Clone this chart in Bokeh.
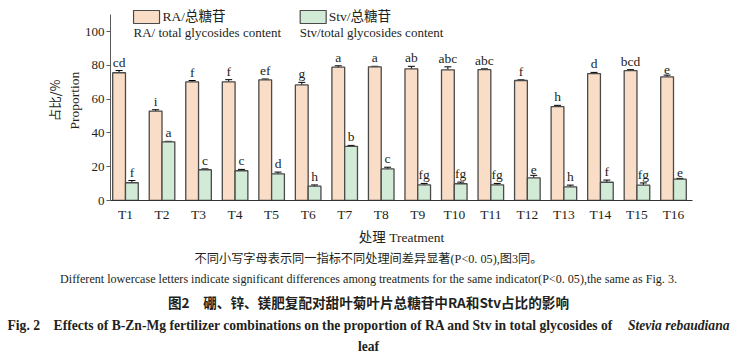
import numpy as np
from bokeh.plotting import figure
from bokeh.layouts import column, row
from bokeh.models import (Range1d, FixedTicker, Label, Whisker, ColumnDataSource,
                          TeeHead, LinearAxis)
from bokeh.core.properties import value
from bokeh.embed import file_html
from bokeh.resources import INLINE

# ---------------- data ----------------
categories = ["T1", "T2", "T3", "T4", "T5", "T6", "T7", "T8",
              "T9", "T10", "T11", "T12", "T13", "T14", "T15", "T16"]
ra_values = [75.6, 52.9, 70.2, 70.2, 71.4, 68.4, 78.9, 79.1,
             77.9, 77.3, 77.5, 71.0, 55.6, 75.1, 76.9, 73.2]
ra_errors = [1.3, 0.8, 0.8, 1.3, 0.5, 1.5, 0.8, 0.3,
             1.5, 1.8, 0.4, 0.4, 0.7, 0.7, 0.5, 1.0]
ra_letters = ["cd", "i", "f", "f", "ef", "g", "a", "a",
              "ab", "abc", "abc", "f", "h", "d", "bcd", "e"]
stv_values = [10.5, 34.7, 18.2, 17.6, 15.8, 8.5, 32.0, 18.7,
              9.3, 9.9, 9.3, 13.4, 8.1, 10.8, 9.1, 12.6]
stv_errors = [1.3, 0.3, 0.5, 0.8, 1.0, 0.7, 0.6, 1.0,
              0.8, 1.0, 0.8, 1.5, 1.0, 1.3, 1.3, 0.5]
stv_letters = ["f", "a", "c", "c", "d", "h", "b", "c",
               "fg", "fg", "fg", "e", "h", "f", "fg", "e"]
y_ticks = [0, 20, 40, 60, 80, 100]

# ---------------- layout constants ----------------
W = 735
H1 = 250          # chart part height
H2 = 113          # caption part height
X0, X1 = 0.59, 16.52
PXU = 36.5        # px per x unit
PYU = 1.69        # px per y unit
FL_IMG = 110      # frame left (px)
BASE_IMG = 200    # y=0 (px)
Y1 = BASE_IMG / PYU


def dx(px):
    return X0 + (px - FL_IMG) / PXU


def dy(py):
    return (BASE_IMG - py) / PYU


SERIF = "Liberation Serif"
CJK = "Noto Sans CJK SC"
MIX = "Liberation Serif, Noto Sans CJK SC"
RA_FILL = "#FADDC6"
STV_FILL = "#D2EBD6"
EDGE = "#4a4a4a"
TXT = "#231f20"
BW = 0.35

p = figure(width=W, height=H1, x_range=Range1d(X0, X1), y_range=Range1d(0, Y1),
           output_backend="svg", toolbar_location=None,
           min_border_left=FL_IMG, min_border_right=43, min_border_top=0,
           min_border_bottom=H1 - BASE_IMG)
p.outline_line_color = None
p.grid.visible = False

idx = np.arange(1, len(categories) + 1)
x_ra = idx - BW / 2
x_stv = idx + BW / 2

src = ColumnDataSource(dict(
    x_ra=x_ra, x_stv=x_stv, ra=ra_values, stv=stv_values,
    ra_lo=np.array(ra_values) - np.array(ra_errors),
    ra_hi=np.array(ra_values) + np.array(ra_errors),
    stv_lo=np.array(stv_values) - np.array(stv_errors),
    stv_hi=np.array(stv_values) + np.array(stv_errors),
    ra_let=ra_letters, stv_let=stv_letters,
))

p.vbar(x="x_ra", top="ra", width=BW, bottom=0, source=src,
       fill_color=RA_FILL, line_color=EDGE, line_width=1.3)
p.vbar(x="x_stv", top="stv", width=BW, bottom=0, source=src,
       fill_color=STV_FILL, line_color=EDGE, line_width=1.3)

for b, lo, hi in (("x_ra", "ra_lo", "ra_hi"), ("x_stv", "stv_lo", "stv_hi")):
    w = Whisker(source=src, base=b, lower=lo, upper=hi, line_color="black",
                line_width=1,
                upper_head=TeeHead(size=7, line_color="black", line_width=1),
                lower_head=TeeHead(size=7, line_color="black", line_width=1))
    p.add_layout(w)

p.text(x="x_ra", y="ra_hi", text="ra_let", source=src, text_align="center",
       text_baseline="bottom", y_offset=-1, text_font=value(SERIF),
       text_font_size="13.5px", text_color=TXT)
p.text(x="x_stv", y="stv_hi", text="stv_let", source=src, text_align="center",
       text_baseline="bottom", y_offset=-1, text_font=value(SERIF),
       text_font_size="13.5px", text_color=TXT)

# axes
p.yaxis.bounds = (0, 110)
p.yaxis.ticker = FixedTicker(ticks=y_ticks)
p.yaxis.minor_tick_line_color = None
p.yaxis.major_tick_in = 0
p.yaxis.major_tick_out = 4
p.yaxis.axis_line_color = "#5a5a5a"
p.yaxis.major_tick_line_color = "#5a5a5a"
p.yaxis.major_label_text_font = SERIF
p.yaxis.major_label_text_font_size = "13px"
p.yaxis.major_label_text_color = TXT
p.yaxis.major_label_standoff = 2
p.yaxis.axis_label = "Proportion"
p.yaxis.axis_label_text_font = SERIF
p.yaxis.axis_label_text_font_size = "13.5px"
p.yaxis.axis_label_text_font_style = "normal"
p.yaxis.axis_label_text_color = TXT
p.yaxis.axis_label_standoff = 0

# second (outer) left axis only carrying the Chinese title line
ax2 = LinearAxis(ticker=FixedTicker(ticks=[]), axis_line_color=None,
                 major_tick_line_color=None, minor_tick_line_color=None,
                 major_label_text_font_size="0px",
                 axis_label="占比/%", axis_label_text_font=CJK,
                 axis_label_text_font_size="12.5px",
                 axis_label_text_font_style="normal",
                 axis_label_text_color=TXT, axis_label_standoff=0)
p.add_layout(ax2, "left")

p.xaxis.ticker = FixedTicker(ticks=list(idx))
p.xaxis.major_label_overrides = {int(i): c for i, c in zip(idx, categories)}
p.xaxis.minor_tick_line_color = None
p.xaxis.major_tick_in = 0
p.xaxis.major_tick_out = 0
p.xaxis.axis_line_color = "#333333"
p.xaxis.major_label_text_font = SERIF
p.xaxis.major_label_text_font_size = "13.5px"
p.xaxis.major_label_text_color = TXT
p.xaxis.major_label_standoff = 6
p.xaxis.axis_label = "处理 Treatment"
p.xaxis.axis_label_text_font = MIX
p.xaxis.axis_label_text_font_size = "13.5px"
p.xaxis.axis_label_text_font_style = "normal"
p.xaxis.axis_label_text_color = TXT
p.xaxis.axis_label_standoff = 5

# legend (drawn manually)
p.rect(x=[dx(146), dx(312.5)], y=[dy(16.5), dy(16.5)], width=26, height=13,
       width_units="screen", height_units="screen",
       fill_color=[RA_FILL, STV_FILL], line_color=EDGE, line_width=1.2)


def lab(fig, x, y, text, font=SERIF, size="12px", align="left", style="normal",
        angle=0.0, color=TXT):
    fig.add_layout(Label(x=x, y=y, text=text, text_font=font,
                         text_font_size=size, text_align=align,
                         text_baseline="middle", text_font_style=style,
                         angle=angle, text_color=color))


lab(p, dx(162), dy(16), "RA/总糖苷", font=MIX, size="13.5px")
lab(p, dx(133), dy(32), "RA/ total glycosides content", size="13px")
lab(p, dx(328), dy(16), "Stv/总糖苷", font=MIX, size="13.5px")
lab(p, dx(299), dy(32), "Stv/total glycosides content", size="13px")

# ---------------- caption panel ----------------
q = figure(width=W, height=H2, x_range=Range1d(0, W), y_range=Range1d(H1 + H2, H1),
           output_backend="svg", toolbar_location=None,
           min_border_left=0, min_border_right=0, min_border_top=0,
           min_border_bottom=0)
q.axis.visible = False
q.grid.visible = False
q.outline_line_color = None

lab(q, 368, 258, "不同小写字母表示同一指标不同处理间差异显著(P<0. 05),图3同。",
    font=MIX, size="12.2px", align="center")
lab(q, 368, 278, "Different lowercase letters indicate significant differences among "
                 "treatments for the same indicator(P<0. 05),the same as Fig. 3.",
    size="12.1px", align="center")
lab(q, 368, 301, "图2\u3000硼、锌、镁肥复配对甜叶菊叶片总糖苷中RA和Stv占比的影响",
    font=CJK, size="13.6px", align="center", style="bold")
lab(q, 7, 325, "Fig. 2\u2003Effects of B-Zn-Mg fertilizer combinations on the proportion "
               "of RA and Stv in total glycosides of",
    size="13.6px", align="left", style="bold")
lab(q, 729, 325, "Stevia rebaudiana", size="13.6px", align="right", style="bold italic")
lab(q, 368, 346, "leaf", size="13.6px", align="center", style="bold")

layout = column(p, row(q), spacing=0)
open("out.html", "w").write(file_html(layout, INLINE))
